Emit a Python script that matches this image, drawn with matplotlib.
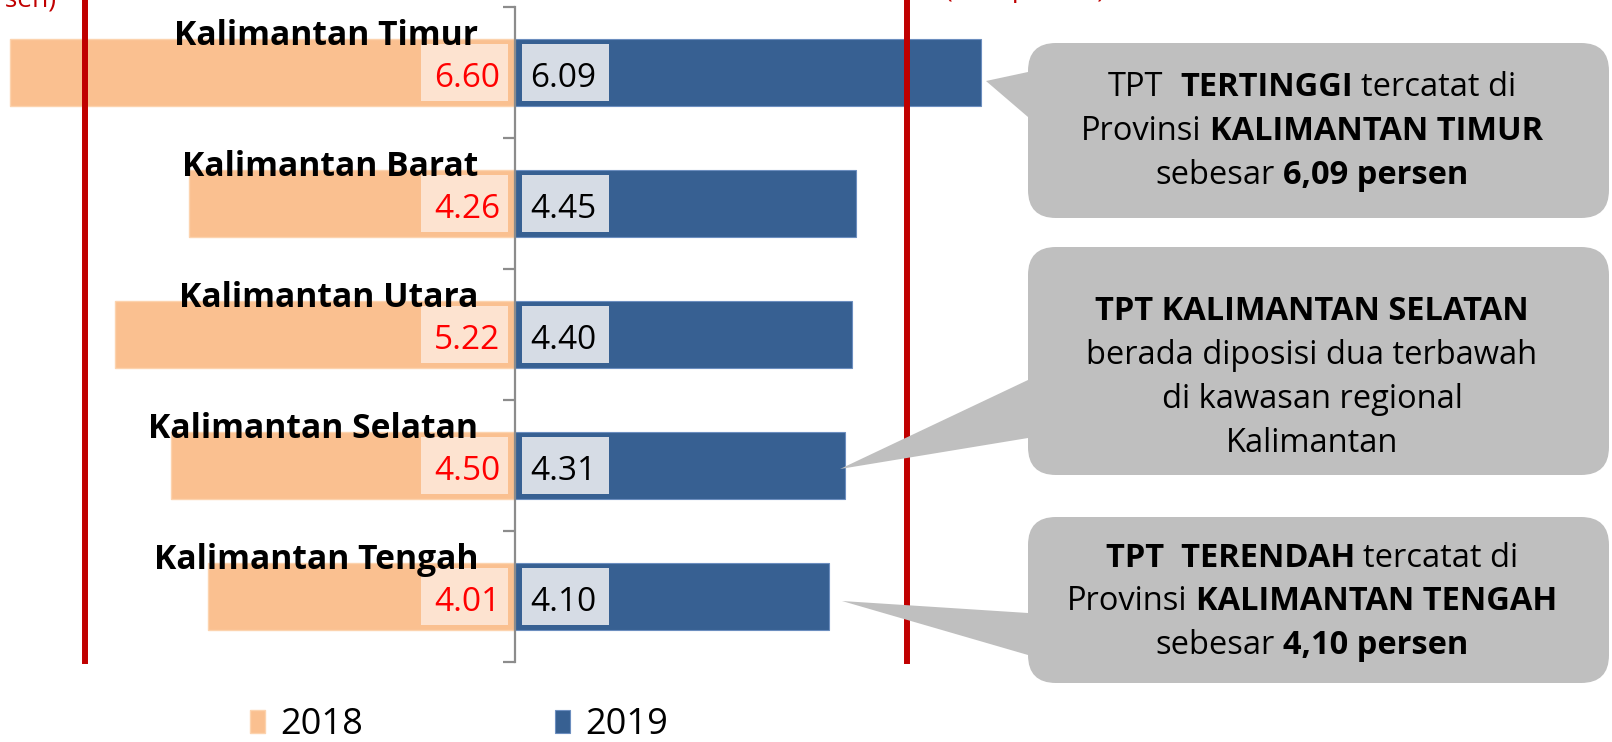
import matplotlib
matplotlib.use('Agg')
import matplotlib.pyplot as plt
from matplotlib.patches import FancyBboxPatch, Polygon, Rectangle
import numpy as np

plt.rcParams['font.family'] = ['Open Sans', 'DejaVu Sans']

# ---------------- data ----------------
categories = ['Kalimantan Timur', 'Kalimantan Barat', 'Kalimantan Utara',
              'Kalimantan Selatan', 'Kalimantan Tengah']
tpt_2018 = [6.60, 4.26, 5.22, 4.50, 4.01]
tpt_2019 = [6.09, 4.45, 4.40, 4.31, 4.10]
series_labels = ['2018', '2019']
ref_2018 = 5.62
ref_2019 = 5.12
ref_labels = ['(5,62 persen)', '(5,12 persen)']

callout_1 = [[('TPT', False), ('  TERTINGGI', True), (' tercatat di', False)],
             [('Provinsi', False), (' KALIMANTAN TIMUR', True)],
             [('sebesar', False), (' 6,09 persen', True)]]
callout_2 = [[('TPT KALIMANTAN SELATAN', True)],
             [('berada diposisi dua terbawah', False)],
             [('di kawasan regional', False)],
             [('Kalimantan', False)]]
callout_3 = [[('TPT  TERENDAH', True), (' tercatat di', False)],
             [('Provinsi', False), (' KALIMANTAN TENGAH', True)],
             [('sebesar', False), (' 4,10 persen', True)]]

# ---------------- figure ----------------
W, H = 1612, 742
fig = plt.figure(figsize=(W / 100, H / 100), dpi=100)
PX = 76.55          # pixels per data unit
X0 = 515            # pixel position of zero
ax = fig.add_axes([0, 1 - 662 / H, 1, 655 / H])
ax.set_xlim(-X0 / PX, (W - X0) / PX)
n = len(categories)
ax.set_ylim(n - 0.5, -0.5)
ypos = np.arange(n)

C18 = '#FAC090'
C19 = '#376092'
b18 = ax.barh(ypos, [-v for v in tpt_2018], height=0.51, color=C18,
              edgecolor='#FCD3AE', linewidth=1, zorder=2, label=series_labels[0])
b19 = ax.barh(ypos, tpt_2019, height=0.51, color=C19,
              edgecolor='#6C8EBF', linewidth=0.8, zorder=2, label=series_labels[1])

for s in ['top', 'right', 'bottom']:
    ax.spines[s].set_visible(False)
ax.spines['left'].set_position(('data', 0))
ax.spines['left'].set_color('#8C8C8C')
ax.spines['left'].set_linewidth(1.6)
ax.spines['left'].set_zorder(3)
ax.set_yticks(np.arange(-0.5, n, 1))
ax.set_yticklabels([''] * (n + 1))
ax.set_xticks([])
ax.tick_params(axis='y', direction='out', length=9, width=1.6, color='#8C8C8C')
ax.patch.set_visible(False)

# reference lines
for xv in (-ref_2018, ref_2019):
    ax.axvline(xv, ymin=0.0015, ymax=1 + 7 / 655, color='#C00000', lw=4.3,
               clip_on=False, zorder=4)

# value labels and category names
bw = 87 / PX
for i in range(n):
    ax.add_patch(Rectangle((-0.09 - bw, i - 0.2175), bw, 0.435,
                           facecolor='#FDE3D0', edgecolor='none', zorder=3))
    ax.add_patch(Rectangle((0.09, i - 0.2175), bw, 0.435,
                           facecolor='#D6DCE5', edgecolor='none', zorder=3))
    ax.text(-0.19, i + 0.108, f'{tpt_2018[i]:.2f}', ha='right', va='baseline',
            color='#FF0000', fontsize=24, zorder=5)
    ax.text(0.20, i + 0.108, f'{tpt_2019[i]:.2f}', ha='left', va='baseline',
            color='black', fontsize=24, zorder=5)
    ax.text(-0.48, i - 0.21, categories[i], ha='right', va='baseline',
            fontsize=24.2, fontweight='bold', color='black', zorder=5)

ax.legend(handles=[b18, b19], loc='lower left',
          bbox_to_anchor=(250 / W, -1 / H), bbox_transform=fig.transFigure,
          ncol=2, frameon=False, fontsize=26, handlelength=0.42,
          handleheight=0.62, handletextpad=0.42, columnspacing=5.3,
          borderpad=0, borderaxespad=0)

# ---------------- overlay (callouts, cut-off header texts) ----------------
ov = fig.add_axes([0, 0, 1, 1])
ov.set_xlim(0, W)
ov.set_ylim(H, 0)
ov.axis('off')

ov.text(56, 7, ref_labels[0], ha='right', va='baseline', color='#C00000', fontsize=19)
ov.text(945, -3, ref_labels[1], ha='left', va='baseline', color='#C00000', fontsize=19)

renderer = fig.canvas.get_renderer()
GREY = '#BFBFBF'
FS = 23.5


def text_width(s, bold):
    t = ov.text(0, 0, s, fontsize=FS, fontweight='bold' if bold else 'normal')
    w = t.get_window_extent(renderer).width
    t.remove()
    return w


def space_width(bold):
    return text_width('a a', bold) - text_width('aa', bold)


def draw_callout(x, y, w, h, tip, b1, b2, lines, baselines, cx):
    ov.add_patch(Polygon([tip, (x, b1), (x + 40, b1), (x + 40, b2), (x, b2)],
                         closed=True, facecolor=GREY, edgecolor='none', zorder=2))
    ov.add_patch(FancyBboxPatch((x, y), w, h,
                                boxstyle='round,pad=0,rounding_size=28',
                                facecolor=GREY, edgecolor='none', zorder=2))
    for line, yb in zip(lines, baselines):
        parts = []
        total = 0
        for s, bold in line:
            lead = len(s) - len(s.lstrip(' '))
            core = s.strip(' ')
            sp = space_width(bold)
            wd = text_width(core, bold)
            parts.append((core, bold, lead * sp, wd))
            total += lead * sp + wd
        cur = cx - total / 2
        for core, bold, lead_w, wd in parts:
            cur += lead_w
            ov.text(cur, yb, core, ha='left', va='baseline', fontsize=FS,
                    fontweight='bold' if bold else 'normal', color='black', zorder=3)
            cur += wd


draw_callout(1028, 43, 581, 175, (986, 81), 72, 117, callout_1, [96, 140, 184], 1312)
draw_callout(1028, 247, 581, 228, (840, 469), 380, 438, callout_2, [320, 364, 408, 452], 1312)
draw_callout(1028, 517, 581, 166, (842, 601), 613, 655, callout_3, [567, 610, 654], 1312)

fig.savefig('out.png', dpi=100)
